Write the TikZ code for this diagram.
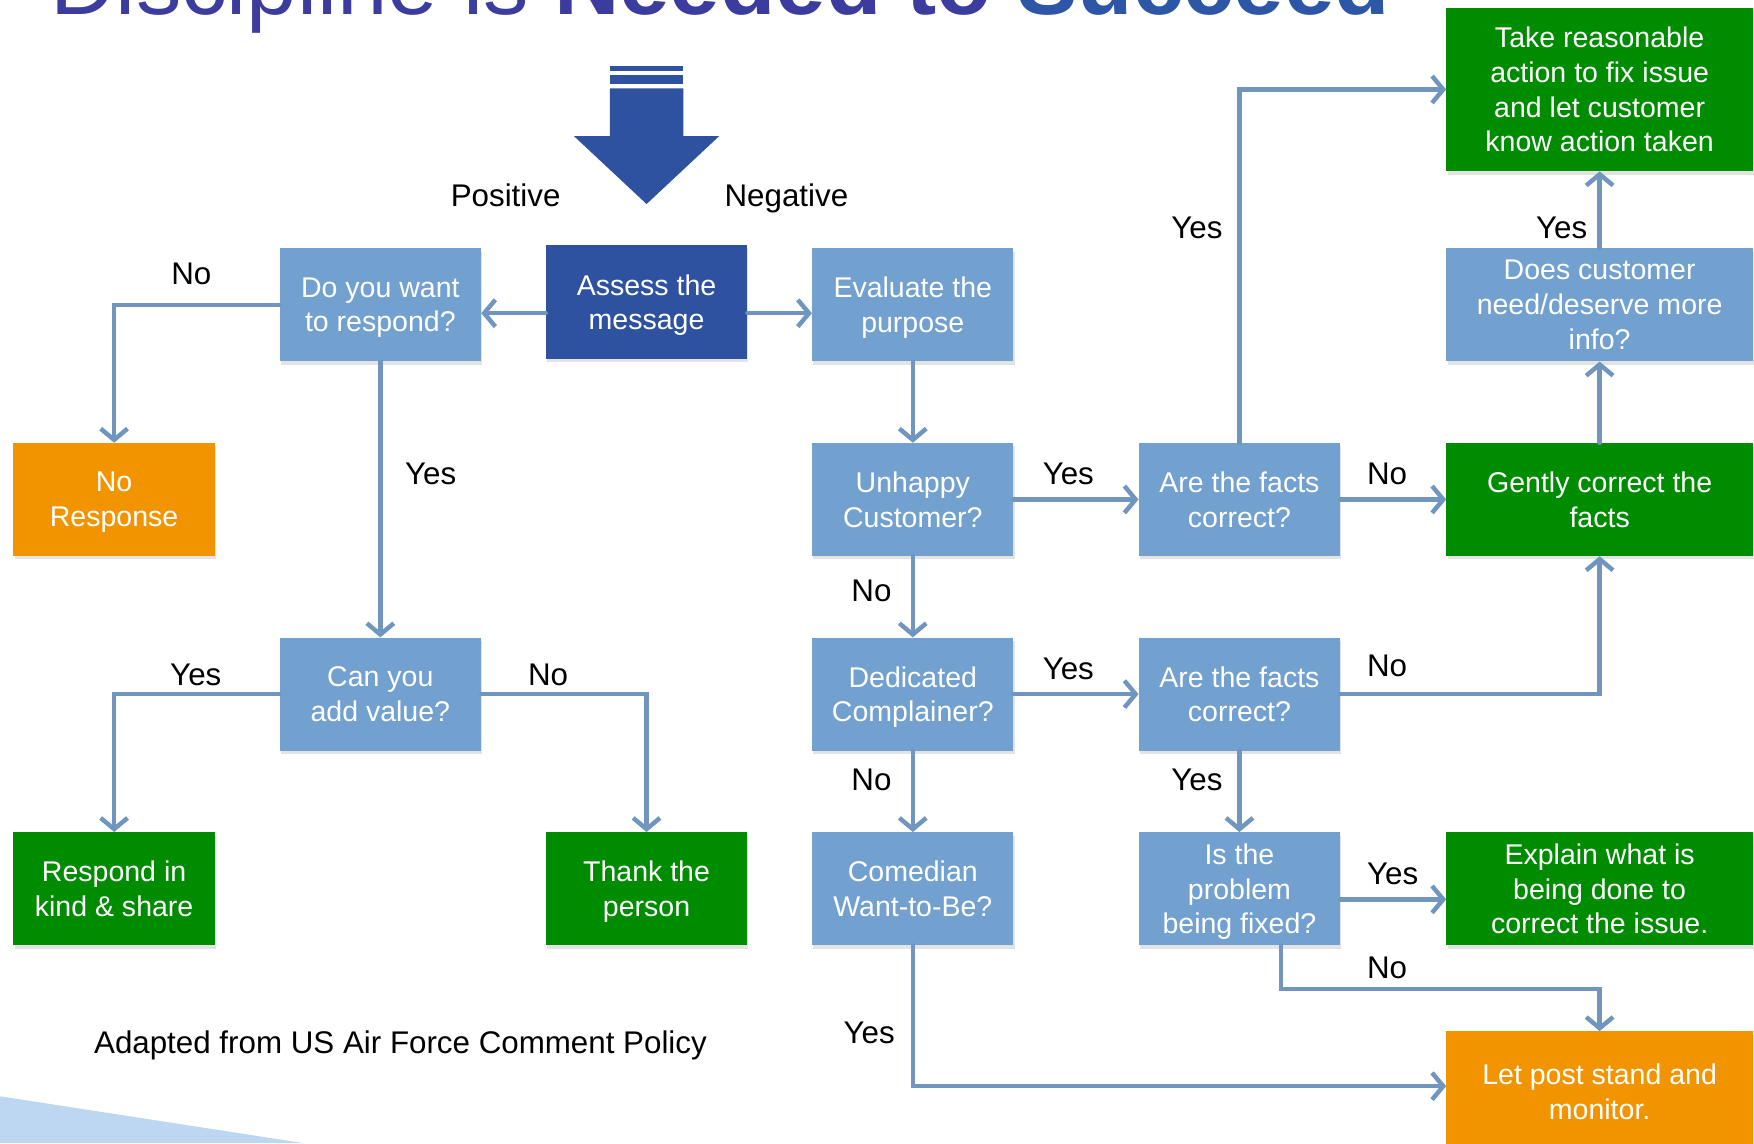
\documentclass[tikz,border=0pt]{standalone}
\usepackage{fontspec}
\setmainfont{Liberation Sans}
\usetikzlibrary{arrows.meta,shadows,calc}
\definecolor{qblue}{HTML}{72A0CF}
\definecolor{dblue}{HTML}{2E52A0}
\definecolor{qgreen}{HTML}{008C00}
\definecolor{qorange}{HTML}{F29400}
\definecolor{lnk}{HTML}{7096C0}
\definecolor{ttlp}{HTML}{3C3C9E}
\definecolor{ttlb}{HTML}{2D56A6}
\definecolor{wedgec}{HTML}{BDD7F3}
\begin{document}
\begin{tikzpicture}[x=1pt,y=-1pt,
  box/.style={rectangle, minimum width=180pt, minimum height=101pt, inner sep=0pt,
    text=white, align=center, font=\fontsize{25.5}{31}\selectfont, text depth=-3pt,
    drop shadow={shadow xshift=1pt, shadow yshift=-3pt, opacity=0.22}},
  wide/.style={minimum width=274pt},
  qbox/.style={box, fill=qblue},
  sbox/.style={box, fill=dblue},
  gbox/.style={box, fill=qgreen},
  obox/.style={box, fill=qorange},
  conn/.style={draw=lnk, line width=4pt, line cap=round,
    -{Straight Barb[length=10pt,width=24pt,line width=4pt]}},
  lbl/.style={font=\fontsize{28}{34}\selectfont, anchor=base, inner sep=0pt}
]
\useasboundingbox (0,0) rectangle (1568,1022);
\clip (0,0) rectangle (1568,1022);

% background wedge
\fill[wedgec] (0,980) -- (272,1022) -- (0,1022) -- cycle;

% title (cut off at top, as in the reference)
\node[anchor=base west, inner sep=0pt, font=\fontsize{81}{90}\selectfont] (title) at (45,13)
  {\textcolor{ttlp}{Discipline is} \textcolor{ttlp}{\bfseries Needed to} \textcolor{ttlb}{\bfseries Succeed}};

% block arrow
\fill[dblue] (545.3,59) rectangle (610.9,63.2);
\fill[dblue] (545.3,67) rectangle (610.9,74.8);
\fill[dblue] (545.3,79) -- (610.9,79) -- (610.9,121.6) -- (643,121.6) -- (578,182.4)
  -- (513,121.6) -- (545.3,121.6) -- cycle;
\node[lbl] (pos) at (452,185) {Positive};
\node[lbl] (neg) at (703,185) {Negative};

% boxes
\node[sbox, minimum height=102pt] (assess) at (578,270) {Assess the\\message};
\node[qbox] (doyou) at (340,272.5) {Do you want\\to respond?};
\node[qbox] (eval) at (816,272.5) {Evaluate the\\purpose};
\node[obox] (noresp) at (102,446.5) {No\\Response};
\node[qbox] (unhappy) at (816,446.5) {Unhappy\\Customer?};
\node[qbox] (facts1) at (1108,446.5) {Are the facts\\correct?};
\node[gbox, wide] (gently) at (1430,446.5) {Gently correct the\\facts};
\node[qbox, wide] (doescust) at (1430,272.5) {Does customer\\need/deserve more\\info?};
\node[gbox, wide, minimum height=146pt] (take) at (1430,80) {Take reasonable\\action to fix issue\\and let customer\\know action taken};
\node[qbox] (canyou) at (340,620.5) {Can you\\add value?};
\node[qbox] (dedic) at (816,620.5) {Dedicated\\Complainer?};
\node[qbox] (facts2) at (1108,620.5) {Are the facts\\correct?};
\node[gbox] (respond) at (102,794.5) {Respond in\\kind \& share};
\node[gbox] (thank) at (578,794.5) {Thank the\\person};
\node[qbox] (comedian) at (816,794.5) {Comedian\\Want-to-Be?};
\node[qbox] (isprob) at (1108,794.5) {Is the\\problem\\being fixed?};
\node[gbox, wide] (explain) at (1430,794.5) {Explain what is\\being done to\\correct the issue.};
\node[obox, wide, minimum height=108pt] (letpost) at (1430,976) {Let post stand and\\monitor.};

% connectors
\draw[conn] ([yshift=-10pt]assess.west) -- ([yshift=-10pt]assess.west -| doyou.east);
\draw[conn] ([yshift=-10pt]assess.east) -- ([yshift=-10pt]assess.east -| eval.west);
\draw[conn] (doyou.west) -| (noresp.north);
\draw[conn] (doyou.south) -- (canyou.north);
\draw[conn] (canyou.west) -| (respond.north);
\draw[conn] (canyou.east) -| (thank.north);
\draw[conn] (eval.south) -- (unhappy.north);
\draw[conn] (unhappy.east) -- (facts1.west);
\draw[conn] (unhappy.south) -- (dedic.north);
\draw[conn] (facts1.north) |- (take.west);
\draw[conn] (facts1.east) -- (gently.west);
\draw[conn] (gently.north) -- (doescust.south);
\draw[conn] (doescust.north) -- (take.south);
\draw[conn] (dedic.east) -- (facts2.west);
\draw[conn] (dedic.south) -- (comedian.north);
\draw[conn] (facts2.east) -| (gently.south);
\draw[conn] (facts2.south) -- (isprob.north);
\draw[conn] ([yshift=-9.5pt]isprob.east) -- ([yshift=-9.5pt]isprob.east -| explain.west);
\draw[conn] ([xshift=37pt]isprob.south) -- ++(0,39) -| (letpost.north);
\draw[conn] (comedian.south) |- ([yshift=5pt]letpost.west);

% labels
\node[lbl] (l1) at (171,254) {No};
\node[lbl] (l2) at (385,433) {Yes};
\node[lbl] (l3) at (175,613) {Yes};
\node[lbl] (l4) at (490,613) {No};
\node[lbl] (l5) at (955,433) {Yes};
\node[lbl] (l6) at (779,538) {No};
\node[lbl] (l7) at (1070,213) {Yes};
\node[lbl] (l8) at (1240,433) {No};
\node[lbl] (l9) at (1396,213) {Yes};
\node[lbl] (l10) at (955,607) {Yes};
\node[lbl] (l11) at (779,707) {No};
\node[lbl] (l12) at (1240,605) {No};
\node[lbl] (l13) at (1070,707) {Yes};
\node[lbl] (l14) at (1245,791) {Yes};
\node[lbl] (l15) at (1240,875) {No};
\node[lbl] (l16) at (777,933) {Yes};
\node[lbl] (footer) at (358,942) {Adapted from US Air Force Comment Policy};
\end{tikzpicture}
\end{document}
